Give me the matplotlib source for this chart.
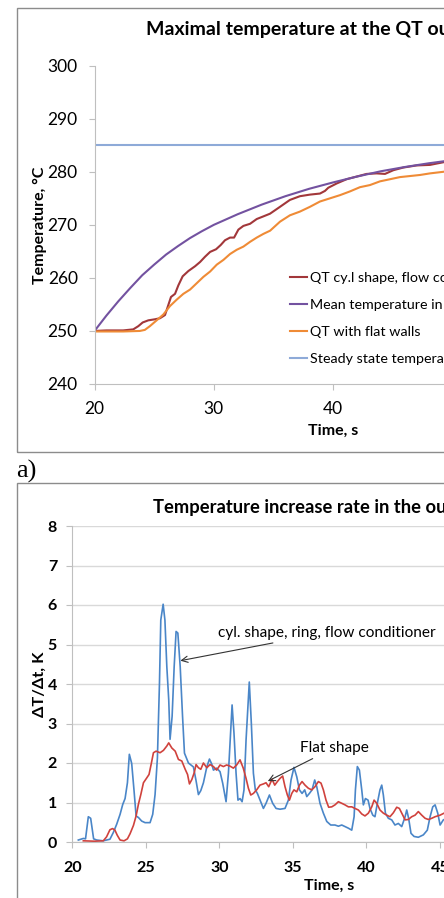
import matplotlib
matplotlib.use('Agg')
from matplotlib import pyplot as plt
from matplotlib.patches import Rectangle

plt.rcParams['font.family'] = ['Lato', 'DejaVu Sans']

W, H = 444, 898

# ---- panel a: maximal temperature at the QT outlet ----
t_cyl = [20.0, 21.0, 22.4, 23.25, 23.67, 24.04, 24.51, 25.07, 25.49, 25.91, 26.19, 26.41,
         26.75, 27.03, 27.39, 27.87, 28.43, 28.85, 29.27, 29.69, 30.19, 30.58, 30.94, 31.36,
         31.7, 32.06, 32.48, 33.04, 33.6, 34.16, 34.71, 35.55, 36.38, 37.22, 38.06, 38.9,
         39.32, 39.6, 40.3, 41.13, 41.97, 42.81, 43.65, 44.35, 45.05, 45.88, 47.0, 48.12,
         49.24, 50.5]
temp_cyl = [250.0, 250.1, 250.1, 250.3, 250.9, 251.6, 252.0, 252.2, 252.4, 253.0, 254.9, 256.4,
            257.0, 258.6, 260.3, 261.3, 262.2, 263.0, 264.0, 264.9, 265.4, 266.2, 267.1, 267.6,
            267.6, 269.1, 269.8, 270.2, 271.1, 271.6, 272.1, 273.4, 274.7, 275.4, 275.7, 275.9,
            276.4, 277.0, 277.8, 278.6, 279.1, 279.6, 279.7, 279.6, 280.3, 280.8, 281.2, 281.3,
            281.8, 282.2]

t_mean = [20, 21, 22, 23, 24, 25, 26, 27, 28, 29, 30, 32, 34, 36, 38, 40, 42, 44, 46, 48, 50]
temp_mean = [250.0, 252.9, 255.6, 258.1, 260.5, 262.5, 264.4, 266.0, 267.5, 268.8, 270.0,
             272.0, 273.8, 275.4, 276.8, 278.0, 279.1, 280.1, 280.9, 281.6, 282.2]

t_flat = [20.0, 22.4, 23.8, 24.22, 24.64, 25.21, 25.77, 26.33, 26.89, 27.45, 28.01, 28.57,
          29.13, 29.69, 30.25, 30.81, 31.36, 31.92, 32.48, 33.04, 33.6, 34.16, 34.72, 35.55,
          36.38, 37.22, 38.06, 38.9, 39.74, 40.58, 41.41, 42.25, 43.09, 43.93, 44.77, 45.6,
          46.44, 47.28, 48.12, 49.24, 50.5]
temp_flat = [249.9, 249.9, 250.0, 250.2, 250.9, 252.0, 253.1, 254.7, 255.9, 257.0, 257.8, 259.0,
             260.2, 261.2, 262.5, 263.4, 264.5, 265.3, 265.9, 266.8, 267.6, 268.3, 268.9, 270.6,
             271.8, 272.5, 273.4, 274.4, 275.0, 275.6, 276.3, 277.1, 277.5, 278.2, 278.6, 279.0,
             279.2, 279.4, 279.7, 280.0, 280.4]

t_steady = [20, 60]
temp_steady = [285, 285]

labels_a = ['QT cy.l shape, flow conditioner', 'Mean temperature in the QT outlet',
            'QT with flat walls', 'Steady state temperature']

# ---- panel b: temperature increase rate ----
t_rate_cyl = [20.41, 20.75, 20.9, 21.09, 21.25, 21.45, 21.66, 22.1, 22.56, 22.79, 23.02, 23.25,
              23.43, 23.59, 23.75, 23.88, 24.04, 24.2, 24.34, 24.5, 24.72, 24.95, 25.29, 25.47,
              25.63, 25.79, 25.93, 26.02, 26.18, 26.3, 26.43, 26.56, 26.65, 26.79, 26.93, 27.06,
              27.18, 27.34, 27.5, 27.63, 27.9, 28.24, 28.42, 28.58, 28.74, 28.92, 29.15, 29.33,
              29.49, 29.6, 29.82, 30.05, 30.23, 30.46, 30.62, 30.78, 30.87, 31.0, 31.14, 31.27,
              31.41, 31.55, 31.68, 31.82, 31.98, 32.04, 32.18, 32.32, 32.45, 32.59, 32.77, 33.0,
              33.18, 33.41, 33.63, 33.86, 34.13, 34.47, 34.7, 34.88, 35.08, 35.27, 35.45, 35.63,
              35.81, 35.95, 36.13, 36.31, 36.49, 36.63, 36.85, 37.08, 37.31, 37.58, 37.87, 38.1,
              38.33, 38.55, 38.78, 39.01, 39.17, 39.26, 39.39, 39.53, 39.69, 39.8, 39.94, 40.12,
              40.25, 40.44, 40.59, 40.75, 40.93, 41.05, 41.16, 41.3, 41.5, 41.73, 41.95, 42.18,
              42.41, 42.64, 42.75, 42.88, 43.04, 43.25, 43.54, 43.88, 44.15, 44.34, 44.52, 44.68,
              44.86, 45.02, 45.24, 45.5]
rate_cyl = [0.05, 0.09, 0.08, 0.64, 0.6, 0.08, 0.05, 0.03, 0.07, 0.24, 0.45, 0.7,
            0.95, 1.1, 1.5, 2.22, 1.99, 1.3, 0.66, 0.62, 0.53, 0.49, 0.49, 0.7,
            1.2, 2.13, 4.02, 5.62, 6.02, 5.62, 4.44, 3.6, 2.6, 3.18, 4.44, 5.33,
            5.29, 4.44, 3.18, 2.25, 2.0, 1.9, 1.55, 1.2, 1.3, 1.5, 1.9, 2.1,
            1.97, 1.82, 1.87, 1.78, 1.49, 1.02, 1.74, 2.83, 3.47, 2.75, 1.74, 1.06,
            1.1, 1.02, 1.32, 2.58, 3.68, 4.05, 3.0, 1.74, 1.32, 1.23, 1.06, 0.85,
            0.98, 1.19, 0.98, 0.85, 0.83, 0.85, 1.06, 1.57, 1.89, 1.65, 1.32, 1.23,
            1.32, 1.15, 1.23, 1.32, 1.57, 1.4, 0.98, 0.73, 0.52, 0.43, 0.43, 0.4,
            0.43, 0.39, 0.35, 0.3, 0.64, 1.32, 1.91, 1.82, 1.32, 0.94, 1.1, 1.06,
            0.85, 0.68, 0.64, 0.98, 1.32, 1.44, 1.19, 0.73, 0.6, 0.56, 0.43, 0.47,
            0.39, 0.64, 0.81, 0.6, 0.22, 0.14, 0.12, 0.18, 0.3, 0.64, 0.89, 0.94,
            0.73, 0.43, 0.56, 0.6]

t_rate_flat = [20.75, 21.5, 22.11, 22.33, 22.56, 22.74, 22.9, 23.06, 23.25, 23.52, 23.75, 23.93,
               24.16, 24.34, 24.5, 24.66, 24.84, 25.06, 25.22, 25.36, 25.52, 25.7, 25.97, 26.2,
               26.43, 26.56, 26.77, 27.0, 27.22, 27.45, 27.68, 27.84, 27.97, 28.13, 28.29, 28.42,
               28.58, 28.74, 28.92, 29.15, 29.37, 29.6, 29.82, 30.05, 30.28, 30.5, 30.73, 30.96,
               31.18, 31.41, 31.63, 31.82, 31.98, 32.14, 32.32, 32.54, 32.77, 33.0, 33.18, 33.36,
               33.59, 33.77, 33.95, 34.13, 34.31, 34.47, 34.63, 34.77, 34.93, 35.08, 35.27, 35.45,
               35.63, 35.83, 36.06, 36.29, 36.51, 36.74, 36.92, 37.08, 37.26, 37.44, 37.65, 37.87,
               38.1, 38.33, 38.55, 38.78, 39.01, 39.23, 39.46, 39.69, 39.91, 40.14, 40.37, 40.53,
               40.71, 40.93, 41.16, 41.39, 41.61, 41.84, 42.07, 42.25, 42.48, 42.64, 42.86, 43.09,
               43.32, 43.54, 43.77, 44.0, 44.22, 44.45, 44.68, 45.02, 45.29, 45.6]
rate_flat = [0.03, 0.02, 0.03, 0.13, 0.31, 0.34, 0.3, 0.17, 0.05, 0.03, 0.08, 0.21,
             0.42, 0.66, 0.96, 1.2, 1.5, 1.62, 1.71, 1.96, 2.26, 2.3, 2.26, 2.32,
             2.43, 2.51, 2.38, 2.3, 2.09, 2.05, 1.84, 1.71, 1.47, 1.58, 1.75, 1.96,
             1.88, 1.84, 2.0, 1.88, 1.96, 1.91, 1.82, 1.95, 1.91, 1.95, 1.92, 1.87,
             1.95, 2.08, 1.87, 1.61, 1.36, 1.19, 1.23, 1.32, 1.44, 1.47, 1.5, 1.4,
             1.59, 1.44, 1.53, 1.61, 1.67, 1.4, 1.19, 1.06, 1.23, 1.32, 1.27, 1.44,
             1.53, 1.44, 1.36, 1.32, 1.4, 1.53, 1.49, 1.32, 1.06, 0.88, 0.89, 0.94,
             1.02, 0.98, 0.94, 0.89, 0.89, 0.85, 0.81, 0.71, 0.66, 0.73, 0.89, 1.06,
             0.98, 0.81, 0.73, 0.68, 0.64, 0.74, 0.88, 0.85, 0.68, 0.56, 0.57, 0.64,
             0.68, 0.77, 0.68, 0.6, 0.57, 0.6, 0.64, 0.68, 0.73, 0.72]


def fx(x):
    return x / W


def fy(y):
    return 1 - y / H


fig = plt.figure(figsize=(W / 100, H / 100), dpi=100)
fig.patch.set_facecolor('white')

# chart frames (they continue past the cropped right/bottom edges)
fig.add_artist(Rectangle((fx(16.5), fy(452)), 2, (452 - 8) / H, transform=fig.transFigure,
                         fill=False, edgecolor='#8c8c8c', lw=1.0))
fig.add_artist(Rectangle((fx(16.5), fy(950)), 2, (950 - 483) / H, transform=fig.transFigure,
                         fill=False, edgecolor='#8c8c8c', lw=1.0))
fig.text(fx(16), fy(478), 'a)', family='Liberation Serif', fontsize=19, ha='left', va='baseline')

axis_grey = '#bfbfbf'

# ---- top chart ----
ax1 = fig.add_axes([fx(94.5), fy(384), (571.7 - 94.5) / W, (384 - 65.7) / H])
ax1.plot(t_cyl, temp_cyl, color='#a2373a', lw=1.5, label=labels_a[0])
ax1.plot(t_mean, temp_mean, color='#7352a0', lw=1.5, label=labels_a[1])
ax1.plot(t_flat, temp_flat, color='#ef8b36', lw=1.5, label=labels_a[2])
ax1.plot(t_steady, temp_steady, color='#8eaad8', lw=1.5, label=labels_a[3])
ax1.set_xlim(20, 60)
ax1.set_ylim(240, 300)
ax1.set_xticks(range(20, 61, 10))
ax1.set_yticks(range(240, 301, 10))
for side in ['top', 'right']:
    ax1.spines[side].set_visible(False)
for side in ['left', 'bottom']:
    ax1.spines[side].set_color(axis_grey)
ax1.tick_params(colors=axis_grey, labelcolor='black', labelsize=12.5, length=4, pad=8)
ax1.legend(loc='upper left', bbox_to_anchor=(fx(290), fy(272)), bbox_transform=fig.transFigure,
           frameon=False, fontsize=10.3, handlelength=1.2, handletextpad=0.2,
           labelspacing=1.04, borderpad=0, borderaxespad=0)
fig.text(fx(146), fy(29), 'Maximal temperature at the QT outlet', fontsize=14,
         fontweight='bold', ha='left', va='center')
fig.text(fx(40), fy(225), 'Temperature, °C', fontsize=11.5, fontweight='bold', rotation=90,
         ha='center', va='center')
fig.text(fx(333), fy(431), 'Time, s', fontsize=11.5, fontweight='bold', ha='center', va='center')

# ---- bottom chart ----
ax2 = fig.add_axes([fx(72.3), fy(842), (586.8 - 72.3) / W, (842 - 526) / H])
ax2.plot(t_rate_cyl, rate_cyl, color='#4a86c8', lw=1.2)
ax2.plot(t_rate_flat, rate_flat, color='#d0423d', lw=1.2)
ax2.set_xlim(20, 55)
ax2.set_ylim(0, 8)
ax2.set_xticks(range(20, 56, 5))
ax2.set_yticks(range(0, 9))
ax2.grid(axis='y', color='#d9d9d9', lw=1.0)
ax2.set_axisbelow(True)
for side in ['top', 'right']:
    ax2.spines[side].set_visible(False)
for side in ['left', 'bottom']:
    ax2.spines[side].set_color(axis_grey)
ax2.tick_params(colors=axis_grey, labelcolor='black', labelsize=11.5, length=4, pad=7)
ax2.tick_params(axis='x', pad=10)
for lab in ax2.get_xticklabels() + ax2.get_yticklabels():
    lab.set_fontweight('bold')
ax2.annotate('cyl. shape, ring, flow conditioner', xy=(27.35, 4.59), xytext=(29.9, 5.3),
             fontsize=11.1, va='center', ha='left',
             arrowprops=dict(arrowstyle='->', color='#333333', lw=0.8, shrinkA=2, shrinkB=0))
ax2.annotate('Flat shape', xy=(33.3, 1.54), xytext=(35.5, 2.39),
             fontsize=11.1, va='center', ha='left',
             arrowprops=dict(arrowstyle='->', color='#333333', lw=0.8, shrinkA=2, shrinkB=0))
fig.text(fx(153), fy(508), 'Temperature increase rate in the outlet', fontsize=13.2,
         fontweight='bold', ha='left', va='center')
fig.text(fx(40), fy(684), 'ΔT/Δt, K', fontsize=11.8, fontweight='bold', rotation=90,
         ha='center', va='center')
fig.text(fx(329), fy(886), 'Time, s', fontsize=11.5, fontweight='bold', ha='center', va='center')

fig.savefig('out.png', dpi=100)
